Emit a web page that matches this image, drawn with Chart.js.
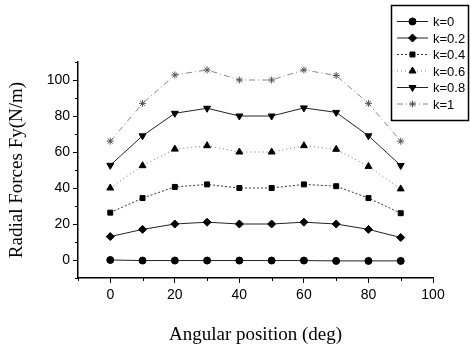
<!DOCTYPE html>
<html>
<head>
<meta charset="utf-8">
<script src="https://cdn.jsdelivr.net/npm/chart.js@4/dist/chart.umd.min.js"></script>
<style>
  html, body { margin: 0; padding: 0; background: #fff; }
  #wrap { width: 471px; height: 351px; }
</style>
</head>
<body>
<div id="wrap"><canvas id="myChart" width="471" height="351"></canvas></div>
<script>
// angular position (deg)
const angles = [0, 10, 20, 30, 40, 50, 60, 70, 80, 90];

// radial force Fy (N/m) for each k
const k0  = [0, -0.3, -0.3, -0.3, -0.3, -0.3, -0.3, -0.5, -0.5, -0.5];
const k02 = [13, 17, 20, 21, 20, 20, 21, 20, 17, 12.5];
const k04 = [26.3, 34.4, 40.6, 42, 40, 40, 42, 41, 34.4, 26];
const k06 = [40, 52.4, 61.6, 63.5, 60, 60, 63.5, 61.5, 52, 39.5];
const k08 = [52.6, 69, 81.5, 84.3, 80, 80, 84.5, 82, 69, 52.5];
const k1  = [66, 87, 102.8, 105.6, 100, 100, 105.6, 102.5, 87, 66];

const seriesLabels = ['k=0', 'k=0.2', 'k=0.4', 'k=0.6', 'k=0.8', 'k=1'];

const xTicks = [0, 20, 40, 60, 80, 100];
const xMinor = [-10, 10, 30, 50, 70, 90];
const yTicks = [0, 20, 40, 60, 80, 100];
const yMinor = [-10, 10, 30, 50, 70, 90, 110];

const styles = [
  { color: '#222', dash: [], point: 'circle', radius: 3.5, rotation: 0 },
  { color: '#222', dash: [], point: 'rectRot', radius: 4, rotation: 0 },
  { color: '#333', dash: [2, 2], point: 'rect', radius: 3.5, rotation: 0 },
  { color: '#777', dash: [1, 3], point: 'triangle', radius: 4, rotation: 0 },
  { color: '#222', dash: [], point: 'triangle', radius: 4, rotation: 180 },
  { color: '#888', dash: [6, 3, 1, 3], point: 'star', radius: 3.5, rotation: 0 }
];

const allSeries = [k0, k02, k04, k06, k08, k1];

const datasets = allSeries.map((vals, i) => ({
  label: seriesLabels[i],
  data: angles.map((a, j) => ({ x: a, y: vals[j] })),
  borderColor: styles[i].color,
  backgroundColor: styles[i].color,
  borderWidth: 1,
  borderDash: styles[i].dash,
  pointStyle: styles[i].point,
  pointRadius: styles[i].radius,
  pointRotation: styles[i].rotation,
  pointBorderWidth: 1,
  pointBorderColor: i === 5 ? '#555' : '#000',
  pointBackgroundColor: '#000',
  tension: 0
}));

// minor ticks (short) on both axes
const minorTicks = {
  id: 'minorTicks',
  afterDraw(chart) {
    const ctx = chart.ctx;
    const xs = chart.scales.x, ys = chart.scales.y;
    ctx.save();
    ctx.strokeStyle = '#000';
    ctx.lineWidth = 1;
    ctx.beginPath();
    xMinor.forEach(v => {
      const px = Math.round(xs.getPixelForValue(v)) + 0.5;
      ctx.moveTo(px, xs.top);
      ctx.lineTo(px, xs.top + 3);
    });
    yMinor.forEach(v => {
      const py = Math.round(ys.getPixelForValue(v)) + 0.5;
      ctx.moveTo(ys.right, py);
      ctx.lineTo(ys.right - 3, py);
    });
    ctx.stroke();
    ctx.restore();
  }
};

// boxed legend in the top right corner
const boxLegend = {
  id: 'boxLegend',
  afterDraw(chart) {
    const ctx = chart.ctx;
    const x0 = 391, y0 = 5, w = 77, h = 115;
    ctx.save();
    ctx.fillStyle = '#fff';
    ctx.fillRect(x0, y0, w, h);
    ctx.strokeStyle = '#000';
    ctx.lineWidth = 1.5;
    ctx.strokeRect(x0 + 0.5, y0 + 0.5, w, h);
    chart.data.datasets.forEach((ds, i) => {
      const y = 21.5 + i * 16.5;
      ctx.strokeStyle = ds.borderColor;
      ctx.lineWidth = 1;
      ctx.setLineDash(ds.borderDash);
      ctx.beginPath();
      ctx.moveTo(397, y);
      ctx.lineTo(428, y);
      ctx.stroke();
      ctx.setLineDash([]);
      ctx.fillStyle = '#000';
      ctx.strokeStyle = ds.pointBorderColor;
      Chart.helpers.drawPoint(ctx, {
        pointStyle: ds.pointStyle,
        rotation: ds.pointRotation,
        radius: ds.pointRadius,
        borderWidth: 1
      }, 412.5, y);
      ctx.fillStyle = '#000';
      ctx.font = '13px "Liberation Sans", Arial, sans-serif';
      ctx.textBaseline = 'middle';
      ctx.textAlign = 'left';
      ctx.fillText(ds.label, 433, y + 1);
    });
    ctx.restore();
  }
};

const ctx = document.getElementById('myChart').getContext('2d');
const chart = new Chart(ctx, {
  type: 'line',
  data: { datasets: datasets },
  plugins: [minorTicks, boxLegend],
  options: {
    responsive: false,
    animation: false,
    layout: { padding: { top: 62, right: 38, left: 0, bottom: 0 } },
    plugins: {
      legend: { display: false },
      tooltip: { enabled: false }
    },
    scales: {
      x: {
        type: 'linear',
        min: -10,
        max: 100,
        afterFit: (s) => { s.height = 73; },
        afterBuildTicks: (s) => { s.ticks = xTicks.map(v => ({ value: v })); },
        grid: { drawOnChartArea: false, drawTicks: true, tickLength: 5, color: '#000' },
        border: { color: '#000', width: 1.5 },
        ticks: {
          color: '#000',
          padding: 4,
          maxRotation: 0,
          font: { family: '"Liberation Sans", Arial, sans-serif', size: 14 }
        },
        title: {
          display: true,
          text: 'Angular position (deg)',
          color: '#000',
          padding: { bottom: 5 },
          font: { family: '"Liberation Serif", "Times New Roman", serif', size: 19 }
        }
      },
      y: {
        type: 'linear',
        min: -10,
        max: 110,
        afterFit: (s) => { s.width = 78; },
        afterBuildTicks: (s) => { s.ticks = yTicks.map(v => ({ value: v })); },
        grid: { drawOnChartArea: false, drawTicks: true, tickLength: 5, color: '#000' },
        border: { color: '#000', width: 1.5 },
        ticks: {
          color: '#000',
          padding: 3,
          font: { family: '"Liberation Sans", Arial, sans-serif', size: 14 }
        },
        title: {
          display: true,
          text: 'Radial Forces Fy(N/m)',
          color: '#000',
          padding: { top: 6 },
          font: { family: '"Liberation Serif", "Times New Roman", serif', size: 19 }
        }
      }
    }
  }
});
</script>
</body>
</html>
